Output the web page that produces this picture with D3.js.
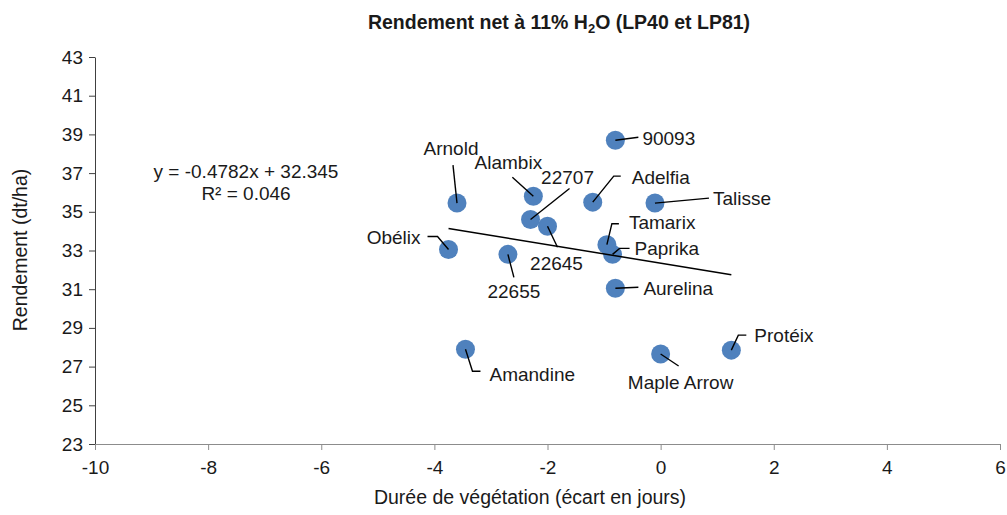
<!DOCTYPE html>
<html><head><meta charset="utf-8">
<script src="https://cdn.jsdelivr.net/npm/d3@7"></script>
<style>
html,body{margin:0;padding:0;background:#fff;}
text{font-family:"Liberation Sans",Arial,sans-serif;fill:#1a1a1a;}
</style></head>
<body><svg id="chart" width="1007" height="515"></svg>
<script>
// ---- data ----
const varieties = ["90093","Arnold","Alambix","22707","22645","Adelfia","Talisse","Tamarix","Paprika","Obélix","22655","Aurelina","Amandine","Maple Arrow","Protéix"];
const duree = [-0.8,-3.6,-2.25,-2.3,-2.0,-1.2,-0.1,-0.95,-0.85,-3.75,-2.7,-0.8,-3.45,0.0,1.25];
const rendement = [38.7,35.45,35.8,34.6,34.25,35.5,35.45,33.3,32.8,33.05,32.8,31.05,27.9,27.65,27.85];
const xTicks = [-10,-8,-6,-4,-2,0,2,4,6];
const yTicks = [23,25,27,29,31,33,35,37,39,41,43];
const slope = -0.4782, intercept = 32.345;
const eqLines = ["y = -0.4782x + 32.345", "R² = 0.046"];

// ---- label layout (pixel offsets from point) ----
const labelLayout = {
  "90093":      {t:[27,-2,"start"],  l:[[23,-3]]},
  "Arnold":     {t:[-6,-55,"middle"],l:[[-4,-38]]},
  "Alambix":    {t:[-25,-34,"middle"],l:[[-21,-19]]},
  "22707":      {t:[37,-42,"middle"],l:[[39,-31]]},
  "22645":      {t:[9,37,"middle"],  l:[[10,21]]},
  "Adelfia":    {t:[39,-25,"start"], l:[[21,-26],[28,-26]]},
  "Talisse":    {t:[58,-5,"start"],  l:[[54,-5]]},
  "Tamarix":    {t:[22,-22,"start"], l:[[5,-21],[12,-21]]},
  "Paprika":    {t:[22,-6,"start"],  l:[[7,-6],[17,-6]]},
  "Obélix":     {t:[-28,-12,"end"],  l:[[-11,-13],[-21,-13]]},
  "22655":      {t:[6,37,"middle"],  l:[[6,23]]},
  "Aurelina":   {t:[28,0,"start"],   l:[[23,-1]]},
  "Amandine":   {t:[24,25,"start"],  l:[[7,22],[15,22]]},
  "Maple Arrow":{t:[20,28,"middle"], l:[[18,12]]},
  "Protéix":    {t:[23,-15,"start"], l:[[7,-15],[15,-15]]}
};

const svg = d3.select("#chart");
const x = d3.scaleLinear().domain([-10,6]).range([95,1000]);
const y = d3.scaleLinear().domain([23,43]).range([444,57]);
const FS = 19;
const fmt = d => String(d);

// title
const title = svg.append("text").attr("x",559).attr("y",29).attr("text-anchor","middle")
  .style("font-weight","bold").style("font-size","19.5px");
title.append("tspan").text("Rendement net à 11% H");
title.append("tspan").text("2").attr("dy",4).style("font-size","13px");
title.append("tspan").text("O (LP40 et LP81)").attr("dy",-4);

// y axis
const yAxis = svg.append("g").attr("transform","translate(95,0)")
  .call(d3.axisLeft(y).tickValues(yTicks).tickFormat(fmt).tickSize(6).tickSizeOuter(0).tickPadding(6));
yAxis.select(".domain").attr("stroke","#404040");
yAxis.selectAll(".tick line").attr("stroke","#404040");
yAxis.selectAll("text").style("font-size",FS+"px").style("font-family","Liberation Sans, Arial, sans-serif").attr("fill","#1a1a1a");

// x axis
const xAxis = svg.append("g").attr("transform","translate(0,444)")
  .call(d3.axisBottom(x).tickValues(xTicks).tickFormat(fmt).tickSize(6).tickSizeOuter(0).tickPadding(11));
xAxis.select(".domain").attr("stroke","#8c8c8c");
xAxis.selectAll(".tick line").attr("stroke","#8c8c8c");
xAxis.selectAll("text").style("font-size",FS+"px").style("font-family","Liberation Sans, Arial, sans-serif").attr("fill","#1a1a1a");

// axis titles
svg.append("text").attr("x",530).attr("y",504).attr("text-anchor","middle")
  .style("font-size","19.5px").text("Durée de végétation (écart en jours)");
svg.append("text").attr("transform","translate(27,250) rotate(-90)").attr("text-anchor","middle")
  .style("font-size","19.5px").text("Rendement (dt/ha)");

// equation
eqLines.forEach((s,i)=>{
  svg.append("text").attr("x",246).attr("y",178+i*22).attr("text-anchor","middle")
    .style("font-size",FS+"px").text(s);
});

// points
const pts = varieties.map((n,i)=>({name:n, px:x(duree[i]), py:y(rendement[i])}));
svg.append("g").selectAll("circle").data(pts).join("circle")
  .attr("cx",d=>d.px).attr("cy",d=>d.py).attr("r",9.5).attr("fill","#4f81bd");

// trendline
const xmin = d3.min(duree), xmax = d3.max(duree);
svg.append("line").attr("x1",x(xmin)).attr("y1",y(slope*xmin+intercept))
  .attr("x2",x(xmax)).attr("y2",y(slope*xmax+intercept))
  .attr("stroke","#000").attr("stroke-width",1.5);

// leader lines
const lineGen = d3.line();
svg.append("g").selectAll("path").data(pts).join("path")
  .attr("d",d=>{
    const L = labelLayout[d.name].l;
    return lineGen([[d.px,d.py]].concat(L.map(o=>[d.px+o[0],d.py+o[1]])));
  })
  .attr("fill","none").attr("stroke","#000").attr("stroke-width",1.4);

// labels
svg.append("g").selectAll("text").data(pts).join("text")
  .attr("x",d=>d.px+labelLayout[d.name].t[0])
  .attr("y",d=>d.py+labelLayout[d.name].t[1])
  .attr("dy","0.35em")
  .attr("text-anchor",d=>labelLayout[d.name].t[2])
  .style("font-size",FS+"px").text(d=>d.name);
</script></body></html>
